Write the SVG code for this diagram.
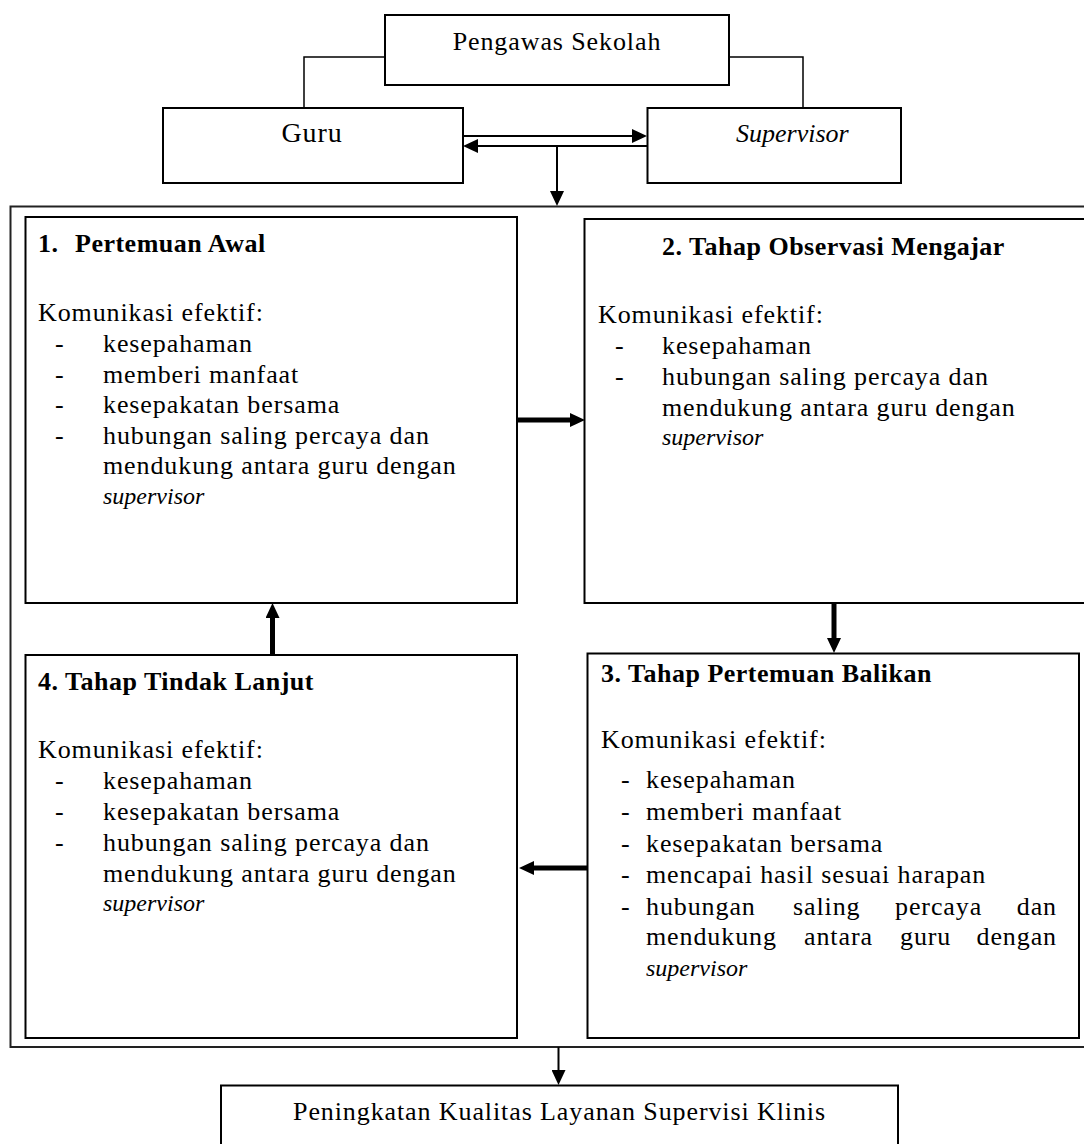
<svg xmlns="http://www.w3.org/2000/svg" width="1084" height="1144" viewBox="0 0 1084 1144">
<style>
.bx{fill:#fff;stroke:#000;stroke-width:2}
.ob{fill:none;stroke:#222;stroke-width:2}
.ln{fill:none;stroke:#000;stroke-width:1.5}
.th{fill:none;stroke:#000;stroke-width:2}
.tk{fill:none;stroke:#000;stroke-width:5}
text{font-family:"Liberation Serif","Times New Roman",serif;font-size:26px;letter-spacing:0.9px;fill:#000}
.b{font-weight:bold;letter-spacing:0.5px}
.i{font-style:italic;letter-spacing:0}
.s{font-size:24px}
.m{text-anchor:middle}
.e{text-anchor:end}
</style>
<defs>
<marker id="ah" viewBox="0 0 15 14" markerWidth="15" markerHeight="14" refX="7" refY="7" orient="auto" markerUnits="userSpaceOnUse">
<path d="M0,0 L15,7 L0,14 Z" fill="#000"/>
</marker>
</defs>
<rect x="10.5" y="206.5" width="1090" height="840.5" class="ob"/>
<g id="connectors">
<polyline points="385,57 304,57 304,108" class="ln"/>
<polyline points="729,57 803,57 803,155" class="ln"/>
<line x1="463" y1="136" x2="639" y2="136" class="th" marker-end="url(#ah)"/>
<line x1="649" y1="146" x2="471" y2="146" class="th" marker-end="url(#ah)"/>
<line x1="557" y1="146" x2="557" y2="198" class="th" marker-end="url(#ah)"/>
<line x1="517" y1="420" x2="577" y2="420" class="tk" marker-end="url(#ah)"/>
<line x1="834" y1="603" x2="834" y2="645" class="tk" marker-end="url(#ah)"/>
<line x1="587" y1="868" x2="527" y2="868" class="tk" marker-end="url(#ah)"/>
<line x1="272.5" y1="655" x2="272.5" y2="611" class="tk" marker-end="url(#ah)"/>
<line x1="558.5" y1="1047" x2="558.5" y2="1077" class="th" marker-end="url(#ah)"/>
</g>
<g id="pengawas">
<rect x="385" y="15" width="344" height="70" class="bx"/>
<text x="557" y="50" class="m">Pengawas Sekolah</text>
</g>
<g id="guru">
<rect x="163" y="108" width="300" height="75" class="bx"/>
<text x="312" y="142" class="m" style="font-size:28px">Guru</text>
</g>
<g id="supervisor">
<rect x="647.5" y="108" width="253.5" height="75" class="bx"/>
<text x="736" y="142" class="i">Supervisor</text>
</g>
<g id="tahap1">
<rect x="25.5" y="217" width="491.5" height="386" class="bx"/>
<text x="38" y="252" class="b">1.</text><text x="75" y="252" class="b">Pertemuan Awal</text>
<text x="38" y="321">Komunikasi efektif:</text>
<text x="55" y="352">-</text><text x="103" y="352">kesepahaman</text>
<text x="55" y="382.5">-</text><text x="103" y="382.5">memberi manfaat</text>
<text x="55" y="413">-</text><text x="103" y="413">kesepakatan bersama</text>
<text x="55" y="443.5">-</text><text x="103" y="443.5">hubungan saling percaya dan</text>
<text x="103" y="474">mendukung antara guru dengan</text>
<text x="103" y="504" class="i s">supervisor</text>
</g>
<g id="tahap2">
<rect x="584.5" y="219" width="510" height="384" class="bx"/>
<text x="662" y="255" class="b">2. Tahap Observasi Mengajar</text>
<text x="598" y="323">Komunikasi efektif:</text>
<text x="615" y="354">-</text><text x="662" y="354">kesepahaman</text>
<text x="615" y="384.5">-</text><text x="662" y="384.5">hubungan saling percaya dan</text>
<text x="662" y="415.5">mendukung antara guru dengan</text>
<text x="662" y="445" class="i s">supervisor</text>
</g>
<g id="tahap3">
<rect x="587.5" y="653.5" width="491.5" height="384.5" class="bx"/>
<text x="601" y="682" class="b">3. Tahap Pertemuan Balikan</text>
<text x="601" y="748">Komunikasi efektif:</text>
<text x="621" y="788">-</text><text x="646" y="788">kesepahaman</text>
<text x="621" y="820">-</text><text x="646" y="820">memberi manfaat</text>
<text x="621" y="851.5">-</text><text x="646" y="851.5">kesepakatan bersama</text>
<text x="621" y="883">-</text><text x="646" y="883">mencapai hasil sesuai harapan</text>
<text x="621" y="914.5">-</text><text x="646" y="914.5">hubungan</text><text x="793" y="914.5">saling</text><text x="895" y="914.5">percaya</text><text x="1057" y="914.5" class="e">dan</text>
<text x="646" y="945">mendukung</text><text x="804" y="945">antara</text><text x="900" y="945">guru</text><text x="1057" y="945" class="e">dengan</text>
<text x="646" y="975.5" class="i s">supervisor</text>
</g>
<g id="tahap4">
<rect x="25.5" y="655" width="491.5" height="383" class="bx"/>
<text x="38" y="690" class="b">4. Tahap Tindak Lanjut</text>
<text x="38" y="758">Komunikasi efektif:</text>
<text x="55" y="788.5">-</text><text x="103" y="788.5">kesepahaman</text>
<text x="55" y="820">-</text><text x="103" y="820">kesepakatan bersama</text>
<text x="55" y="851">-</text><text x="103" y="851">hubungan saling percaya dan</text>
<text x="103" y="881.5">mendukung antara guru dengan</text>
<text x="103" y="911" class="i s">supervisor</text>
</g>
<g id="hasil">
<rect x="221" y="1085.5" width="677" height="80" class="bx"/>
<text x="559.5" y="1120" class="m">Peningkatan Kualitas Layanan Supervisi Klinis</text>
</g>
</svg>
